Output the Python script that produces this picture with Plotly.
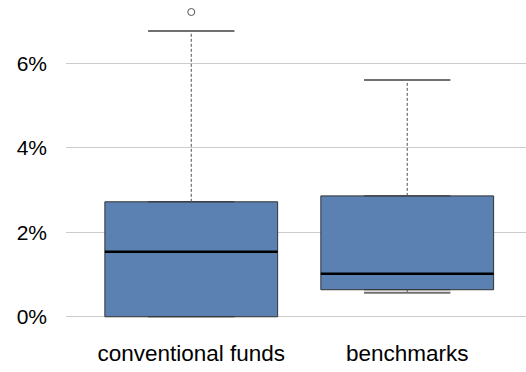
import plotly.graph_objects as go

categories = ["conventional funds", "benchmarks"]
q1 = [0.0, 0.0064]
medians = [0.0154, 0.0102]
q3 = [0.0272, 0.0286]
lower_whisker = [0.0, 0.0057]
upper_whisker = [0.0676, 0.0560]
outliers = [[0.0721], []]

box_color = "#5b80b2"
positions = list(range(len(categories)))
box_half = 0.4
cap_half = 0.2

fig = go.Figure()

for i, name in enumerate(categories):
    # dashed whiskers
    for a, b in [(q3[i], upper_whisker[i]), (lower_whisker[i], q1[i])]:
        if b > a:
            fig.add_trace(go.Scatter(
                x=[i, i], y=[a, b], mode="lines",
                line=dict(color="#505050", width=1, dash="3px,2px"),
                hoverinfo="skip", showlegend=False
            ))
    # whisker caps (skip when the whisker has no length)
    for v, edge in [(lower_whisker[i], q1[i]), (upper_whisker[i], q3[i])]:
        if v == edge:
            continue
        fig.add_trace(go.Scatter(
            x=[i - cap_half, i + cap_half], y=[v, v], mode="lines",
            line=dict(color="#707070", width=2),
            hoverinfo="skip", showlegend=False
        ))

    fig.add_trace(go.Box(
        x=[i], q1=[q1[i]], median=[medians[i]], q3=[q3[i]],
        lowerfence=[q1[i]], upperfence=[q3[i]],
        width=2 * box_half, fillcolor=box_color,
        line=dict(color="#333333", width=1),
        name=name, showlegend=False, boxpoints=False
    ))

    # median
    fig.add_trace(go.Scatter(
        x=[i - box_half, i + box_half], y=[medians[i], medians[i]], mode="lines",
        line=dict(color="#000000", width=2.5),
        hoverinfo="skip", showlegend=False
    ))

    if outliers[i]:
        fig.add_trace(go.Scatter(
            x=[i] * len(outliers[i]), y=outliers[i], mode="markers",
            marker=dict(symbol="circle-open", size=7, color="#555555", line=dict(width=1)),
            hoverinfo="skip", showlegend=False
        ))

fig.update_layout(
    width=526, height=372,
    margin=dict(l=66, r=0, t=4, b=51),
    paper_bgcolor="white", plot_bgcolor="white",
    font=dict(family="Liberation Sans, Arial, sans-serif", size=20, color="#000000"),
    xaxis=dict(
        tickvals=positions, ticktext=categories, range=[-0.58, 1.55],
        showgrid=False, zeroline=False, showline=False, ticks="",
        ticklabelstandoff=16, tickfont=dict(size=22.5), automargin=False
    ),
    yaxis=dict(
        range=[-0.001, 0.074], tickvals=[0, 0.02, 0.04, 0.06], tickformat=".0%",
        showgrid=True, gridcolor="#cccccc", gridwidth=1,
        zeroline=False, showline=False, ticks="",
        ticklabelstandoff=18, tickfont=dict(size=21), automargin=False
    ),
)

# drop the default page margin so the figure sits at the window's corner
fig.write_html(
    "out.html",
    config={"displayModeBar": False},
    post_script="document.body.style.margin='0px';",
)
